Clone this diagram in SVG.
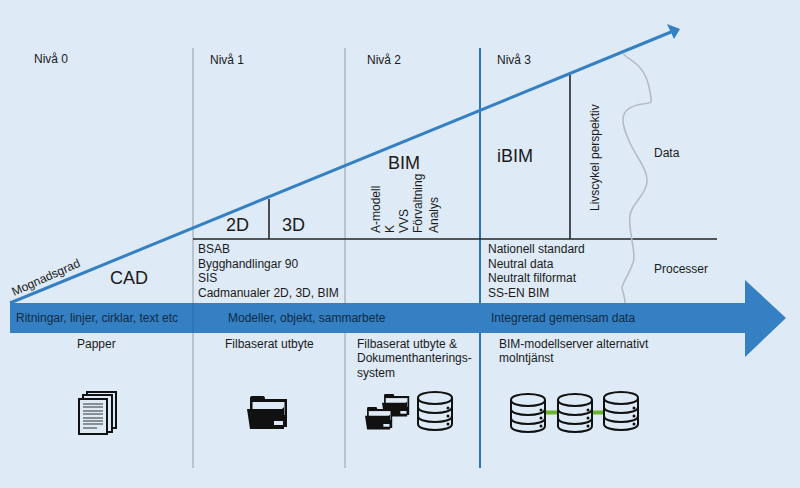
<svg xmlns="http://www.w3.org/2000/svg" width="800" height="488" viewBox="0 0 800 488">
<defs>
<style>
text{font-family:"Liberation Sans",Arial,sans-serif;fill:#1a1a1a;font-size:12px}
.big{font-size:18px}
.bar{fill:#0f2a47}
.ico{fill:none;stroke:#111;stroke-width:2}
.v{stroke:#b9c3cd;stroke-width:2;fill:none}
</style>
<g id="db">
<path class="ico" d="M0 6C0 -2 34 -2 34 6V32C34 40 0 40 0 32Z"/>
<path class="ico" d="M0 6C0 14 34 14 34 6M0 15C0 23 34 23 34 15M0 24C0 32 34 32 34 24"/>
<circle cx="30" cy="16" r="1.500" fill="#111"/><circle cx="30" cy="24" r="1.500" fill="#111"/><circle cx="30" cy="32" r="1.500" fill="#111"/>
</g>
<g id="folder">
<path d="M3 5V2Q3 0 5 0H16Q18 0 18 3H40V31H3Z" fill="#111"/>
<rect x="5.500" y="6" width="32" height="13" fill="#deeaf5"/>
<path d="M0 13H35L37 11V33H3Z" fill="#111"/>
<rect x="27" y="25" width="9" height="4" fill="#deeaf5"/>
</g>
</defs>
<rect width="800" height="488" fill="#deeaf5"/>
<g id="connectors">
<path class="v" d="M193 48V468M345 48V468"/>
<path d="M480 48V468" stroke="#2e75b6" stroke-width="2" fill="none"/>
<path d="M193 239H717M269 199V239M570 73V239" stroke="#262626" stroke-width="1.600" fill="none"/>
<path d="M10 303L671 32" stroke="#3580c2" stroke-width="3" fill="none"/>
<path d="M680 29L667 24L674 39Z" fill="#3580c2"/>
<path d="M623 53C626 59 642 62 648 83C650 92 652 98 651 102C648 105 634 102 626 111C620 118 624 130 630 143C637 158 648 170 647 182C646 195 632 203 630 215C628 228 634 245 634 257C634 268 622 282 622 288C623 293 625 297 625 303" fill="none" stroke="#b4bcc4" stroke-width="1.600"/>
<path d="M545 412.500H557M592 412.500H603" stroke="#6ab42d" stroke-width="4" fill="none"/>
</g>
<g id="main-arrow">
<path d="M10 303H745V280L786 318L745 357V333H10Z" fill="#3580c2"/>
<path d="M193 303V333" stroke="#2f75b4" stroke-width="2"/>
<text class="bar" x="16" y="322">Ritningar, linjer, cirklar, text etc</text>
<text class="bar" x="228" y="322">Modeller, objekt, sammarbete</text>
<text class="bar" x="491" y="322">Integrerad gemensam data</text>
</g>
<g id="levels">
<text x="34" y="63">Nivå 0</text>
<text x="210" y="64">Nivå 1</text>
<text x="367" y="64">Nivå 2</text>
<text x="497" y="64">Nivå 3</text>
</g>
<g id="cad">
<text class="big" x="110" y="284">CAD</text>
<text x="14" y="296" transform="rotate(-24 14 296)">Mognadsgrad</text>
<text x="77" y="348">Papper</text>
<g transform="translate(79 391)">
<rect x="8" y="1" width="29" height="36" fill="#deeaf5" stroke="#111" stroke-width="2"/>
<rect x="4" y="4" width="29" height="37" fill="#deeaf5" stroke="#111" stroke-width="2"/>
<rect x="0" y="8" width="28" height="35" fill="#deeaf5" stroke="#111" stroke-width="2"/>
<path d="M4 13H24M4 16H24M4 20H24M4 23H24M4 27H24M4 30H24M4 33H24M4 37H18" stroke="#333" stroke-width="1.200"/>
</g>
</g>
<g id="level1">
<text class="big" x="226" y="231">2D</text>
<text class="big" x="282" y="231">3D</text>
<text x="198" y="253">BSAB</text>
<text x="198" y="268">Bygghandlingar 90</text>
<text x="198" y="282">SIS</text>
<text x="198" y="297">Cadmanualer 2D, 3D, BIM</text>
<text x="225" y="348">Filbaserat utbyte</text>
<use href="#folder" x="247" y="396"/>
</g>
<g id="level2">
<text class="big" x="388" y="169">BIM</text>
<text transform="translate(380 233) rotate(-90)">A-modell</text>
<text transform="translate(394 233) rotate(-90)">K</text>
<text transform="translate(408 233) rotate(-90)">VVS</text>
<text transform="translate(422 233) rotate(-90)">Förvaltning</text>
<text transform="translate(438 233) rotate(-90)">Analys</text>
<text x="357" y="348">Filbaserat utbyte &amp;</text>
<text x="357" y="362">Dokumenthanterings-</text>
<text x="357" y="377">system</text>
<use href="#folder" transform="translate(382 394) scale(.68)"/>
<use href="#folder" transform="translate(365 407) scale(.68)"/>
<use href="#db" x="418" y="392"/>
</g>
<g id="level3">
<text class="big" x="497" y="162">iBIM</text>
<text transform="translate(599 211) rotate(-90)">Livscykel perspektiv</text>
<text x="488" y="253">Nationell standard</text>
<text x="488" y="268">Neutral data</text>
<text x="488" y="282">Neutralt filformat</text>
<text x="488" y="297">SS-EN BIM</text>
<text x="499" y="348">BIM-modellserver alternativt</text>
<text x="499" y="362">molntjänst</text>
<use href="#db" x="511" y="394"/>
<use href="#db" x="558" y="394"/>
<use href="#db" x="604" y="392"/>
</g>
<g id="side">
<text x="654" y="157">Data</text>
<text x="654" y="273">Processer</text>
</g>
</svg>
